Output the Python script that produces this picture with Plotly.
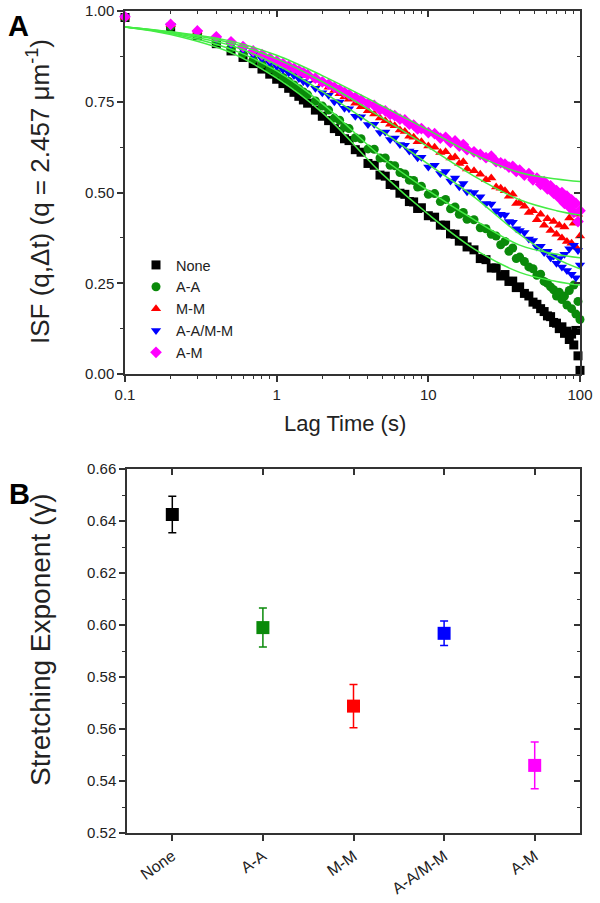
import plotly.graph_objects as go

# ---------------- Panel A data ----------------
lag_time = [0.1, 0.2, 0.3, 0.4, 0.5, 0.6, 0.7, 0.8, 0.9, 1.0,
            1.1, 1.2, 1.3, 1.4, 1.5, 1.6, 1.8, 2.0,
            2.2, 2.4, 2.6, 2.8, 3.0, 3.3, 3.6, 4.0,
            4.4, 4.8, 5.2, 5.6, 6.0, 6.5, 7.0, 7.5, 8.0, 8.5, 9.0, 10,
            11, 12, 13, 14, 15, 16, 17, 18, 20,
            22, 24, 26, 28, 30, 32, 34, 36, 38, 40,
            43, 46, 49, 52, 55, 58, 61, 64, 67, 70,
            73, 76, 79, 82, 85, 88, 91, 94, 97, 100]

isf_none = [.982, .955, .932, .910, .890, .872, .855, .840, .826, .812,
            .800, .787, .776, .765, .755, .746, .727, .710,
            .698, .676, .668, .648, .643, .618, .611, .580,
            .575, .548, .545, .522, .520, .498, .495, .475, .474, .456, .458, .436,
            .432, .410, .410, .386, .385, .366, .367, .350, .342,
            .318, .315, .292, .292, .270, .274, .255, .256, .238, .240,
            .222, .215, .198, .192, .180, .172, .160, .158, .142, .140,
            .125, .130, .112, .118, .095, .110, .080, .120, .050, .010]

isf_aa = [.982, .957, .936, .916, .898, .882, .866, .853, .840, .828,
          .817, .806, .796, .786, .777, .769, .752, .738,
          .727, .705, .699, .680, .676, .651, .648, .620,
          .619, .595, .595, .575, .574, .555, .551, .534, .533, .515, .517, .495,
          .497, .475, .481, .455, .460, .440, .445, .426, .425,
          .403, .400, .385, .380, .356, .365, .338, .347, .318, .322,
          .310, .295, .290, .272, .275, .255, .250, .240, .232, .215,
          .225, .205, .215, .190, .230, .180, .245, .165, .200, .150]

isf_mm = [.983, .962, .944, .928, .914, .902, .890, .880, .870, .862,
          .854, .847, .840, .834, .828, .822, .810, .800,
          .790, .781, .772, .764, .757, .746, .736, .725,
          .716, .705, .698, .688, .684, .672, .668, .655, .652, .640, .640, .628,
          .625, .610, .612, .595, .598, .580, .585, .565, .560,
          .550, .535, .540, .515, .512, .505, .490, .495, .470, .472,
          .462, .445, .450, .425, .440, .410, .428, .395, .420, .385,
          .410, .375, .405, .365, .430, .360, .415, .350, .440, .380]

isf_aamm = [.982, .960, .940, .922, .907, .893, .880, .868, .857, .847,
            .838, .830, .822, .814, .806, .800, .787, .775,
            .768, .750, .749, .732, .731, .710, .709, .687,
            .688, .665, .667, .646, .650, .632, .630, .614, .611, .596, .597, .570,
            .575, .552, .558, .532, .540, .516, .525, .502, .500,
            .488, .470, .468, .450, .440, .438, .420, .418, .400, .395,
            .390, .372, .368, .350, .352, .335, .338, .320, .325, .305,
            .318, .295, .330, .285, .345, .275, .355, .265, .340, .300]

isf_am = [.984, .963, .945, .929, .915, .902, .890, .880, .870, .862,
          .855, .848, .842, .836, .830, .825, .815, .805,
          .798, .790, .783, .776, .770, .762, .755, .745,
          .740, .728, .725, .715, .712, .702, .700, .688, .686, .675, .676, .665,
          .662, .650, .652, .638, .642, .628, .632, .618, .612,
          .605, .596, .600, .585, .582, .578, .570, .572, .558, .562,
          .548, .552, .535, .540, .522, .530, .510, .518, .498, .505,
          .485, .500, .470, .490, .460, .480, .445, .470, .420, .450]

# fitted curves
fit_time = [0.1, 0.2, 0.5, 1, 2, 5, 10, 20, 40, 70, 100]
fit_none = [.956, .935, .885, .815, .720, .550, .440, .345, .280, .255, .245]
fit_aa = [.956, .938, .895, .835, .745, .595, .505, .425, .355, .330, .320]
fit_mm = [.956, .942, .912, .868, .805, .705, .625, .545, .480, .450, .438]
fit_aamm = [.956, .940, .905, .852, .778, .668, .578, .488, .385, .318, .290]
fit_am = [.956, .943, .917, .878, .822, .738, .672, .605, .555, .537, .530]

series_names = ["None", "A-A", "M-M", "A-A/M-M", "A-M"]
series_colors = ["#000000", "#0a8a0a", "#ff0000", "#0000ff", "#ff00ff"]
series_symbols = ["square", "circle", "triangle-up", "triangle-down", "diamond"]

# ---------------- Panel B data ----------------
conditions = ["None", "A-A", "M-M", "A-A/M-M", "A-M"]
gamma = [0.6425, 0.599, 0.5688, 0.5968, 0.546]
gamma_err = [0.0070, 0.0075, 0.0083, 0.0047, 0.0090]

FONT = "Arial, Liberation Sans, sans-serif"
AX = "#333333"

fig = go.Figure()

isf_all = [isf_none, isf_aa, isf_mm, isf_aamm, isf_am]
fit_all = [fit_none, fit_aa, fit_mm, fit_aamm, fit_am]
for name, col, sym, vals in zip(series_names, series_colors, series_symbols, isf_all):
    fig.add_trace(go.Scatter(
        x=lag_time, y=vals, mode="markers", name=name,
        marker=dict(color=col, symbol=sym, size=9, line=dict(width=0)),
        cliponaxis=False, xaxis="x", yaxis="y"))

for vals in fit_all:
    fig.add_trace(go.Scatter(
        x=fit_time, y=vals, mode="lines", showlegend=False,
        line=dict(color="#45ec45", width=1.5, shape="spline"),
        xaxis="x", yaxis="y", hoverinfo="skip"))

# mirror axes with inward ticks (empty helper traces)
fig.add_trace(go.Scatter(x=[], y=[], xaxis="x3", yaxis="y", showlegend=False))
fig.add_trace(go.Scatter(x=[], y=[], xaxis="x", yaxis="y3", showlegend=False))

for cond, g, e, col in zip(conditions, gamma, gamma_err, series_colors):
    fig.add_trace(go.Scatter(
        x=[cond], y=[g], mode="markers", showlegend=False,
        marker=dict(color=col, symbol="square", size=13, line=dict(width=0)),
        error_y=dict(type="data", array=[e], color=col, thickness=1.5, width=4),
        xaxis="x2", yaxis="y2"))

fig.add_trace(go.Scatter(x=[], y=[], xaxis="x4", yaxis="y2", showlegend=False))
fig.add_trace(go.Scatter(x=[], y=[], xaxis="x2", yaxis="y4", showlegend=False))

W, H = 600, 903
xa_dom = [125 / W, 580 / W]
ya_dom = [1 - 374 / H, 1 - 11 / H]
xb_dom = [127 / W, 580 / W]
yb_dom = [1 - 833 / H, 1 - 469 / H]

minor_log = [0.2, 0.3, 0.4, 0.5, 0.6, 0.7, 0.8, 0.9,
             2, 3, 4, 5, 6, 7, 8, 9, 20, 30, 40, 50, 60, 70, 80, 90]

common = dict(showgrid=False, zeroline=False, showline=True, linecolor=AX,
              linewidth=1.5, tickcolor=AX, tickwidth=1.5, ticklen=6,
              automargin=False,
              tickfont=dict(family=FONT, size=15, color="#222"))

def px(x, y):
    return x / W, 1 - y / H

ann = []
def label(text, x, y, size, angle=0, bold=False):
    xx, yy = px(x, y)
    ann.append(dict(text=(f"<b>{text}</b>" if bold else text), x=xx, y=yy,
                    xref="paper", yref="paper", showarrow=False,
                    textangle=angle, xanchor="center", yanchor="middle",
                    font=dict(family=FONT, size=size,
                              color="black" if bold else "#222")))

label("A", 18, 26, 29, bold=True)
label("B", 19, 494, 29, bold=True)
label("ISF (q,\u0394t) (q = 2.457 \u03bcm<sup>-1</sup>)", 38, 192, 26, angle=-90)
label("Lag Time (s)", 345, 423, 22)
label("Stretching Exponent (\u03b3)", 40, 640, 28, angle=-90)

fig.update_layout(
    template="none",
    width=W, height=H, margin=dict(l=0, r=0, t=0, b=0),
    paper_bgcolor="white", plot_bgcolor="white",
    font=dict(family=FONT, color="#222"),
    xaxis=dict(**common, type="log", range=[-1, 2], domain=xa_dom, anchor="y",
               ticks="outside", tickvals=[0.1, 1, 10, 100],
               ticktext=["0.1", "1", "10", "100"],
               minor=dict(tickvals=minor_log, ticks="outside", ticklen=3.5,
                          tickcolor=AX, tickwidth=1.2)),
    yaxis=dict(**common, range=[0, 1.0], domain=ya_dom, anchor="x",
               ticks="outside", tickvals=[0, 0.25, 0.5, 0.75, 1.0],
               tickformat=".2f",
               minor=dict(dtick=0.125, ticks="outside", ticklen=3.5,
                          tickcolor=AX, tickwidth=1.2)),
    xaxis3=dict(**common, type="log", range=[-1, 2], overlaying="x", side="top",
                anchor="y", ticks="inside", tickvals=[0.1, 1, 10, 100],
                showticklabels=False,
                minor=dict(tickvals=minor_log, ticks="inside", ticklen=3.5,
                           tickcolor=AX, tickwidth=1.2)),
    yaxis3=dict(**common, range=[0, 1.0], overlaying="y", side="right",
                anchor="x", ticks="inside", tickvals=[0, 0.25, 0.5, 0.75, 1.0],
                showticklabels=False,
                minor=dict(dtick=0.125, ticks="inside", ticklen=3.5,
                           tickcolor=AX, tickwidth=1.2)),
    xaxis2=dict(**{**common, "tickfont": dict(family=FONT, size=16, color="#222")},
                type="category", categoryorder="array",
                categoryarray=conditions, range=[-0.5, 4.5], domain=xb_dom,
                anchor="y2", ticks="outside", tickangle=-35),
    yaxis2=dict(**common, range=[0.52, 0.66], domain=yb_dom, anchor="x2",
                ticks="outside", dtick=0.02, tick0=0.52, tickformat=".2f",
                minor=dict(dtick=0.01, ticks="outside", ticklen=3.5,
                           tickcolor=AX, tickwidth=1.2)),
    xaxis4=dict(**common, type="linear", range=[-0.5, 4.5], overlaying="x2",
                side="top", anchor="y2", ticks="inside",
                tickvals=[0, 1, 2, 3, 4], showticklabels=False),
    yaxis4=dict(**common, range=[0.52, 0.66], overlaying="y2", side="right",
                anchor="x2", ticks="inside", dtick=0.02, tick0=0.52,
                showticklabels=False,
                minor=dict(dtick=0.01, ticks="inside", ticklen=3.5,
                           tickcolor=AX, tickwidth=1.2)),
    legend=dict(x=136 / W, y=1 - 249 / H, xanchor="left", yanchor="top",
                bgcolor="rgba(0,0,0,0)",
                font=dict(family=FONT, size=14.5, color="#222"),
                tracegroupgap=0, itemwidth=30),
    showlegend=True,
    annotations=ann,
)

fig.write_html("out.html",
               config={"displayModeBar": False},
               post_script="document.body.style.margin='0px';"
                           "document.body.style.overflow='hidden';")
